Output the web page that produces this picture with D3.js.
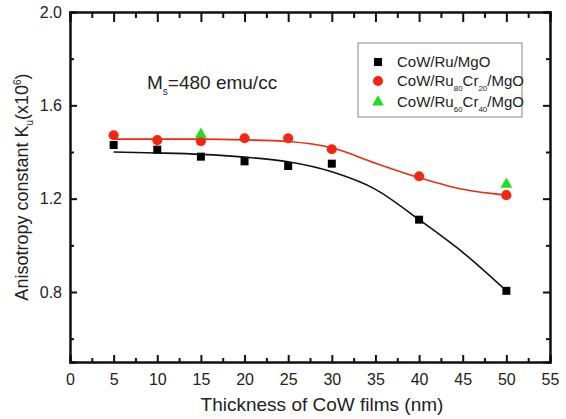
<!DOCTYPE html>
<html>
<head>
<meta charset="utf-8">
<script src="https://cdn.jsdelivr.net/npm/d3@7"></script>
<style>
  body { margin: 0; background: #fff; }
  text { font-family: "Liberation Sans", Arial, sans-serif; fill: #222; }
</style>
</head>
<body>
<div id="chart"></div>
<script>
const width = 566;
const height = 419;

// thickness (nm)
const thickness = [5, 10, 15, 20, 25, 30, 40, 50];
// CoW/Ru/MgO
const kuRu = [1.43, 1.41, 1.38, 1.36, 1.34, 1.35, 1.11, 0.805];
// CoW/Ru80Cr20/MgO
const kuRuCr20 = [1.472, 1.451, 1.446, 1.459, 1.459, 1.412, 1.296, 1.215];
// CoW/Ru60Cr40/MgO
const thicknessCr40 = [15, 50];
const kuRuCr40 = [1.48, 1.266];

// fitted curves
const fitX = [5, 10, 15, 20, 25, 30, 35, 40, 45, 50];
const fitRu = [1.40, 1.396, 1.39, 1.378, 1.358, 1.315, 1.24, 1.11, 0.97, 0.805];
const fitRuCr20 = [1.455, 1.455, 1.455, 1.452, 1.445, 1.418, 1.352, 1.29, 1.24, 1.215];

const xTicks = [0, 5, 10, 15, 20, 25, 30, 35, 40, 45, 50, 55];
const yTicks = [0.8, 1.2, 1.6, 2.0];

const margin = { left: 70, right: 16, top: 12, bottom: 57 };

const svg = d3
  .select("#chart")
  .append("svg")
  .attr("width", width)
  .attr("height", height);

const x = d3.scaleLinear().domain([0, 55]).range([margin.left, width - margin.right]);
const y = d3.scaleLinear().domain([0.5, 2.0]).range([height - margin.bottom, margin.top]);

//-------axes-------//
const minorX = d3.range(2.5, 55, 5);
const minorY = [0.6, 1.0, 1.4, 1.8];

svg.append("g")
  .attr("transform", `translate(0,${y(0.5)})`)
  .call(d3.axisBottom(x).tickValues(xTicks).tickSize(-7).tickPadding(12).tickFormat(d3.format("d")));
svg.append("g")
  .attr("transform", `translate(0,${y(0.5)})`)
  .call(d3.axisBottom(x).tickValues(minorX).tickSize(-4).tickFormat(""));

svg.append("g")
  .attr("transform", `translate(${x(0)},0)`)
  .call(d3.axisLeft(y).tickValues(yTicks).tickSize(-7).tickPadding(8).tickFormat(d3.format(".1f")));
svg.append("g")
  .attr("transform", `translate(${x(0)},0)`)
  .call(d3.axisLeft(y).tickValues(minorY).tickSize(-4).tickFormat(""));

svg.append("g")
  .attr("transform", `translate(${x(55)},0)`)
  .call(d3.axisRight(y).tickValues(yTicks).tickSize(-7).tickFormat(""));
svg.append("g")
  .attr("transform", `translate(${x(55)},0)`)
  .call(d3.axisRight(y).tickValues(minorY).tickSize(-4).tickFormat(""));

svg.append("g")
  .attr("transform", `translate(0,${y(2.0)})`)
  .call(d3.axisTop(x).tickValues(xTicks).tickSize(-10).tickFormat(""));
svg.append("g")
  .attr("transform", `translate(0,${y(2.0)})`)
  .call(d3.axisTop(x).tickValues(minorX).tickSize(-6).tickFormat(""));

svg.selectAll(".domain").attr("stroke", "#111").attr("stroke-width", 2);
svg.selectAll(".tick line").attr("stroke", "#111").attr("stroke-width", 2);
svg.selectAll(".tick text").style("font-size", "16px").attr("fill", "#333");

//-------fit curves-------//
const fitLine = (vals) =>
  d3.line()
    .x((d, i) => x(fitX[i]))
    .y((d) => y(d))
    .curve(d3.curveMonotoneX)(vals);

svg.append("path").attr("d", fitLine(fitRu))
  .attr("fill", "none").attr("stroke", "#111").attr("stroke-width", 1.6);
svg.append("path").attr("d", fitLine(fitRuCr20))
  .attr("fill", "none").attr("stroke", "#ee2a10").attr("stroke-width", 1.6);

//-------points-------//
const sq = d3.symbol().type(d3.symbolSquare).size(64);
const ci = d3.symbol().type(d3.symbolCircle).size(80);
const tr = d3.symbol().type(d3.symbolTriangle).size(60);

svg.append("g").selectAll("path")
  .data(kuRu)
  .join("path")
  .attr("d", sq)
  .attr("transform", (d, i) => `translate(${x(thickness[i])},${y(d)})`)
  .attr("fill", "#000");

svg.append("g").selectAll("path")
  .data(kuRuCr20)
  .join("path")
  .attr("d", ci)
  .attr("transform", (d, i) => `translate(${x(thickness[i])},${y(d)})`)
  .attr("fill", "#f5260f");

svg.append("g").selectAll("path")
  .data(kuRuCr40)
  .join("path")
  .attr("d", tr)
  .attr("transform", (d, i) => `translate(${x(thicknessCr40[i])},${y(d) + 1})`)
  .attr("fill", "#22dd22");

//-------legend-------//
const legend = svg.append("g");
legend.append("rect")
  .attr("x", 358).attr("y", 43).attr("width", 164).attr("height", 74)
  .attr("fill", "#fff").attr("stroke", "#888").attr("stroke-width", 1);

const legItems = [
  { sym: sq, color: "#000", y: 62, name: "CoW/Ru/MgO" },
  { sym: ci, color: "#f5260f", y: 81, name: ["CoW/Ru", "80", "Cr", "20", "/MgO"] },
  { sym: tr, color: "#22dd22", y: 102, name: ["CoW/Ru", "60", "Cr", "40", "/MgO"] },
];
legItems.forEach((d) => {
  legend.append("path").attr("d", d.sym)
    .attr("transform", `translate(378,${d.y})`).attr("fill", d.color);
  const t = legend.append("text").attr("x", 397).attr("y", d.y + 5).style("font-size", "15px");
  if (typeof d.name === "string") {
    t.text(d.name);
  } else {
    d.name.forEach((s, i) => {
      const ts = t.append("tspan").text(s);
      if (i % 2 === 1) ts.attr("dy", 5).style("font-size", "8px");
      else if (i > 0) ts.attr("dy", -5);
    });
  }
});

//-------annotation-------//
const ms = svg.append("text").attr("x", 147).attr("y", 89).style("font-size", "19px");
ms.append("tspan").text("M");
ms.append("tspan").text("s").attr("dy", 6).style("font-size", "10px");
ms.append("tspan").text("=480 emu/cc").attr("dy", -6);

//-------axis titles-------//
svg.append("text")
  .attr("x", 322).attr("y", 411)
  .attr("text-anchor", "middle")
  .style("font-size", "19px")
  .text("Thickness of CoW films (nm)");

const yt = svg.append("text")
  .attr("transform", `translate(28,${(y(0.5) + y(2.0)) / 2}) rotate(-90)`)
  .attr("text-anchor", "middle")
  .style("font-size", "18px");
yt.append("tspan").text("Anisotropy constant K");
yt.append("tspan").text("u").attr("dy", 5).style("font-size", "10px");
yt.append("tspan").text("(x10").attr("dy", -5);
yt.append("tspan").text("6").attr("dy", -7).style("font-size", "10px");
yt.append("tspan").text(")").attr("dy", 7);
</script>
</body>
</html>
